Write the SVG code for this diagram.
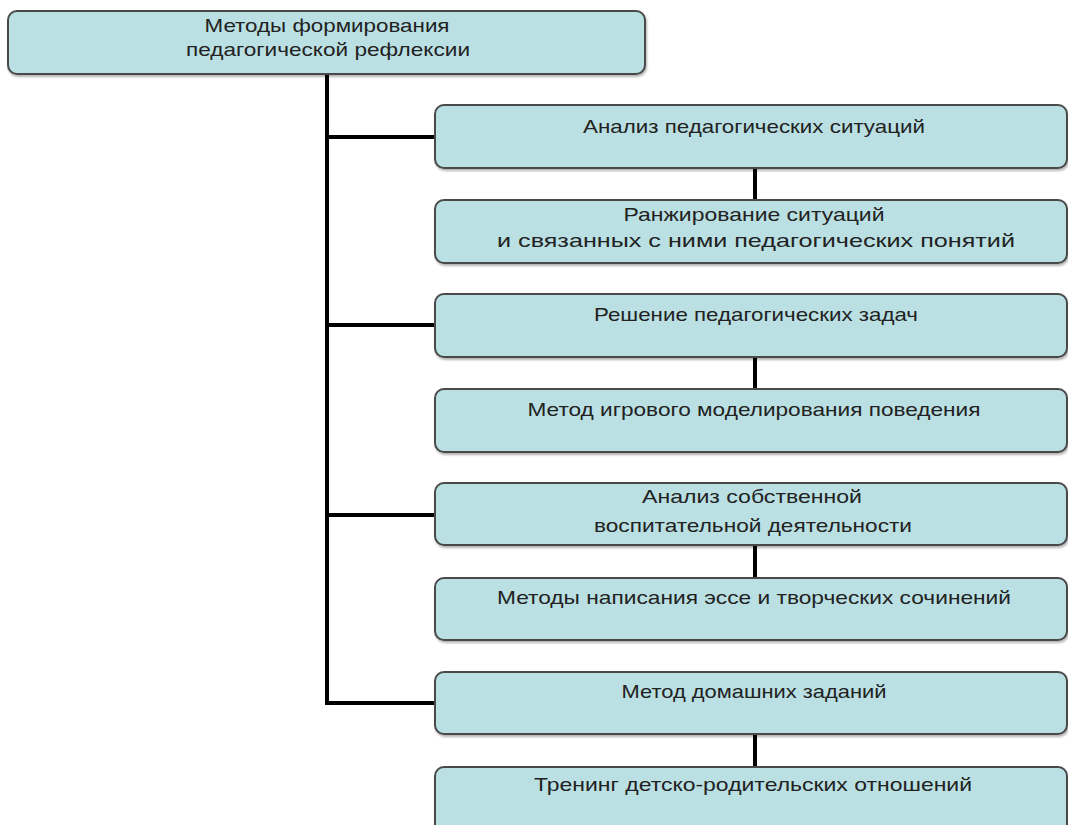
<svg xmlns="http://www.w3.org/2000/svg" width="1068" height="825" viewBox="0 0 1068 825">
<defs>
<filter id="sh" x="-5%" y="-20%" width="110%" height="150%"><feDropShadow dx="1" dy="2" stdDeviation="1.2" flood-color="#000" flood-opacity="0.3"/></filter>
</defs>
<style>
.box{fill:#bae0e3;stroke:#4a4a4a;stroke-width:2;filter:url(#sh)}
.t{font-family:"Liberation Sans",Arial,sans-serif;font-size:19px;fill:#222;text-anchor:middle}
.c{stroke:#000;stroke-width:4;fill:none}
</style>
<rect width="1068" height="825" fill="#fff"/>
<g id="connectors">
<path class="c" d="M327 74V705"/>
<path class="c" d="M327 137H435M327 325H435M327 515H435M327 703H435"/>
<path class="c" d="M755 168V200M755 357V389M755 545V578M755 734V767"/>
</g>
<g id="root"><rect class="box" x="8" y="11" width="637" height="63" rx="9"/>
<text class="t" x="327" y="32" textLength="245" lengthAdjust="spacingAndGlyphs">Методы формирования</text><text class="t" x="328" y="56" textLength="284" lengthAdjust="spacingAndGlyphs">педагогической рефлексии</text></g>
<g id="n1"><rect class="box" x="435" y="105" width="632" height="63" rx="9"/><text class="t" x="754" y="133" textLength="342" lengthAdjust="spacingAndGlyphs">Анализ педагогических ситуаций</text></g>
<g id="n2"><rect class="box" x="435" y="200" width="632" height="63" rx="9"/><text class="t" x="754" y="221" textLength="261" lengthAdjust="spacingAndGlyphs">Ранжирование ситуаций</text><text class="t" x="756" y="247" textLength="518" lengthAdjust="spacingAndGlyphs">и связанных с ними педагогических понятий</text></g>
<g id="n3"><rect class="box" x="435" y="294" width="632" height="63" rx="9"/><text class="t" x="756" y="321" textLength="324" lengthAdjust="spacingAndGlyphs">Решение педагогических задач</text></g>
<g id="n4"><rect class="box" x="435" y="389" width="632" height="63" rx="9"/><text class="t" x="754" y="416" textLength="453" lengthAdjust="spacingAndGlyphs">Метод игрового моделирования поведения</text></g>
<g id="n5"><rect class="box" x="435" y="483" width="632" height="62" rx="9"/><text class="t" x="752" y="503" textLength="220" lengthAdjust="spacingAndGlyphs">Анализ собственной</text><text class="t" x="753" y="532" textLength="318" lengthAdjust="spacingAndGlyphs">воспитательной деятельности</text></g>
<g id="n6"><rect class="box" x="435" y="578" width="632" height="62" rx="9"/><text class="t" x="754" y="604" textLength="514" lengthAdjust="spacingAndGlyphs">Методы написания эссе и творческих сочинений</text></g>
<g id="n7"><rect class="box" x="435" y="672" width="632" height="62" rx="9"/><text class="t" x="754" y="698" textLength="265" lengthAdjust="spacingAndGlyphs">Метод домашних заданий</text></g>
<g id="n8"><rect class="box" x="435" y="767" width="632" height="70" rx="9"/><text class="t" x="753" y="791" textLength="438" lengthAdjust="spacingAndGlyphs">Тренинг детско-родительских отношений</text></g>
</svg>
